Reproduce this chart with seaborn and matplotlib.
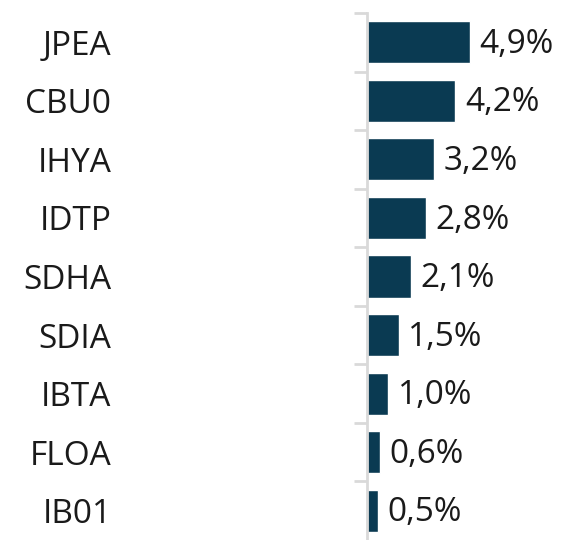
import matplotlib
matplotlib.use("Agg")
import matplotlib.pyplot as plt
import seaborn as sns
import pandas as pd

tickers = ["JPEA", "CBU0", "IHYA", "IDTP", "SDHA", "SDIA", "IBTA", "FLOA", "IB01"]
weights = [4.9, 4.2, 3.2, 2.8, 2.1, 1.5, 1.0, 0.6, 0.5]
value_labels = ["4,9%", "4,2%", "3,2%", "2,8%", "2,1%", "1,5%", "1,0%", "0,6%", "0,5%"]

sns.set_theme(style="white")
plt.rcParams['font.family'] = ['Open Sans', 'DejaVu Sans']

df = pd.DataFrame({"ticker": tickers, "weight": weights})

fig = plt.figure(figsize=(5.73, 5.4), dpi=100)
ax = fig.add_axes([367 / 573, 0, 200 / 573, 1 - 13 / 540])

sns.barplot(data=df, x="weight", y="ticker", color="#0a3a52", width=0.72,
            saturation=1, ax=ax)

ax.set_xlim(0, 200 / 21.0)
ax.set_ylim(len(tickers) - 0.5, -0.5)
ax.set_xlabel("")
ax.set_ylabel("")
ax.set_xticks([])

for spine in ["top", "right", "bottom"]:
    ax.spines[spine].set_visible(False)
ax.spines["left"].set_color("#d9d9d9")
ax.spines["left"].set_linewidth(2)

# category labels far left, separators as minor ticks
ax.tick_params(axis="y", which="major", left=True, length=0, pad=184,
               labelsize=24, labelcolor="#1a1a1a")
ax.set_yticks([i - 0.5 for i in range(len(tickers))], minor=True)
ax.tick_params(axis="y", which="minor", left=True, length=9.5, width=2,
               color="#d9d9d9")

for i, (w, lab) in enumerate(zip(weights, value_labels)):
    ax.annotate(lab, (w, i), xytext=(7, -1.5), textcoords="offset points",
                va="center", ha="left", fontsize=24, color="#1a1a1a")

fig.savefig("out.png", dpi=100)
